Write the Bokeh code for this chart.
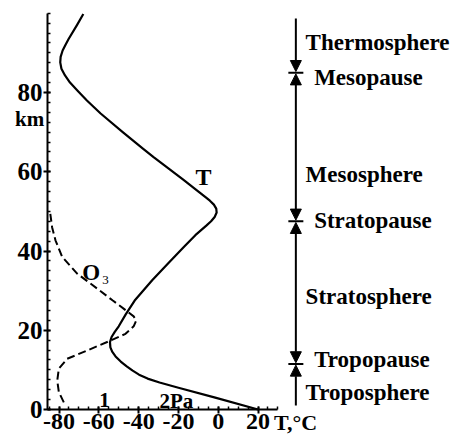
from bokeh.plotting import figure
from bokeh.models import (Range1d, LinearAxis, FixedTicker, Label, Arrow,
                          NormalHead, ColumnDataSource)
from bokeh.embed import file_html
from bokeh.resources import INLINE
from bokeh.core.properties import value

# ---------------- data ----------------
t_alt_km = [0, 3.0, 5.5, 6.8, 7.8, 8.8, 9.8, 10.9, 12.1, 13.4, 14.6, 15.7,
            17.0, 18.3, 19.6, 21.0, 24.0, 27.5, 32.6, 37.0, 41.0, 44.0, 46.4,
            47.5, 48.6, 49.7, 50.7, 51.7, 52.7, 53.6, 55.7, 58.0, 63.7, 65.8,
            70.0, 74.7, 78.0, 80.5, 82.5, 84.3, 86.0, 87.6, 89.0, 90.6, 92.0,
            93.5, 97.0, 99.8]
t_temp_c = [20, -1.5, -20, -29.5, -35.5, -39.8, -43, -46, -49, -51.6, -53.3,
            -54.2, -54.4, -53.6, -52.0, -50, -46.5, -42, -33.2, -25, -17.3,
            -11.5, -6, -3.6, -1.8, -0.8, -1.0, -2.2, -4.2, -6.4, -11.7, -17.6,
            -32.5, -37.7, -48, -59.1, -66, -70.8, -74.5, -77, -78.8, -79.4,
            -79.2, -78.2, -76.8, -75.2, -71, -67.8]

o3_alt_km = [1.8, 4.4, 7.3, 10.3, 12.8, 14.9, 17.4, 19.1, 21.0, 22.5, 23.5,
             25.4, 27.5, 30.5, 34.3, 38.5, 42.7, 46.0, 49.8]
o3_rel = [-77.6, -80.1, -80.9, -80.1, -75.9, -65.8, -54.1, -46.6, -42.5,
          -41.2, -42.5, -47.4, -53.0, -60.8, -70.9, -78.4, -81.8, -83.5, -84.5]

x_ticks = [-80, -60, -40, -20, 0, 20]
x_tick_labels = ["-80", "-60", "-40", "-20", "0", "20"]
x_minor = list(range(-85, 31, 5))
y_ticks = [0, 20, 40, 60, 80]
y_tick_labels = ["0", "20", "40", "60", "80"]
y_minor = [i * 2.5 for i in range(0, 41)]

layer_names = ["Thermosphere", "Mesosphere", "Stratosphere", "Troposphere"]
layer_label_km = [92.6, 59.3, 28.4, 4.2]
pause_names = ["Mesopause", "Stratopause", "Tropopause"]
pause_km = [85.0, 47.5, 11.5]
pause_label_km = [83.8, 47.6, 12.5]

# ---------------- layout constants ----------------
FONT = "Liberation Serif"
AX_X0, AX_X1 = -85.8, 30.0      # extent of the temperature axis
AX_Y0, AX_Y1 = 0.0, 100.0       # extent of the altitude axis
X0, X1 = -109.42, 118.22        # visible range (whole canvas)
Y0, Y1 = -6.56, 103.22
LINE_X = 39.0
LINE_TOP, LINE_BOTTOM = 98.7, 1.0
GAP = 0.3
SPHERE_X = 43.9
PAUSE_X = 48.2

p = figure(width=453, height=435, output_backend="svg", toolbar_location=None,
           x_range=Range1d(X0, X1), y_range=Range1d(Y0, Y1),
           x_axis_type=None, y_axis_type=None,
           min_border_left=0, min_border_right=0, min_border_top=0,
           min_border_bottom=0, min_border=0)
p.outline_line_color = None
p.background_fill_color = "white"
p.border_fill_color = "white"


def style_axis(ax, standoff, size):
    ax.axis_line_width = 2
    ax.axis_line_color = "black"
    ax.major_tick_line_width = 2
    ax.minor_tick_line_width = 1.5
    ax.major_tick_line_color = "black"
    ax.minor_tick_line_color = "black"
    ax.major_tick_in = 3
    ax.major_tick_out = 4
    ax.minor_tick_in = 3
    ax.minor_tick_out = 0
    ax.major_label_standoff = standoff
    ax.major_label_text_font = FONT
    ax.major_label_text_font_style = "bold"
    ax.major_label_text_font_size = size
    ax.major_label_text_color = "black"


xaxis = LinearAxis(ticker=FixedTicker(ticks=x_ticks, minor_ticks=x_minor),
                   bounds=(AX_X0, AX_X1), fixed_location=AX_Y0,
                   major_label_overrides=dict(zip(x_ticks, x_tick_labels)))
style_axis(xaxis, 0, "24px")
p.add_layout(xaxis, "below")

yaxis = LinearAxis(ticker=FixedTicker(ticks=y_ticks, minor_ticks=y_minor),
                   bounds=(AX_Y0, AX_Y1), fixed_location=AX_X0,
                   major_label_overrides=dict(zip(y_ticks, y_tick_labels)))
style_axis(yaxis, 1, "25px")
p.add_layout(yaxis, "left")

# curves
p.line(t_temp_c, t_alt_km, line_width=2.2, line_color="black", line_join="round")
p.line(o3_rel, o3_alt_km, line_width=2, line_color="black", line_dash="8 4")


def lab(x, y, text, size, align="left", style="bold"):
    p.add_layout(Label(x=x, y=y, text=text, text_font=FONT, text_font_style=style,
                       text_font_size=size, text_align=align, text_baseline="middle",
                       text_color="black"))


# curve and axis labels
lab(-11.4, 58.6, "T", "24px")
lab(-68.3, 34.6, "O", "23px")
lab(-58.3, 32.7, "3", "13px", style="normal")
lab(-57.1, 2.3, "1", "21px", align="center")
lab(-21.0, 2.1, "2Pa", "21px", align="center")
lab(-94.8, 73.4, "km", "21px", align="center")
lab(28.0, -3.4, "T,°C", "22px")

# atmosphere layer diagram
bounds_top = [LINE_TOP] + [k - GAP for k in pause_km]
bounds_bot = [k + GAP for k in pause_km] + [LINE_BOTTOM]
for i, (a, b) in enumerate(zip(bounds_top, bounds_bot)):
    start = None if i == 0 else NormalHead(size=11, fill_color="black", line_color="black", line_width=1)
    end = None if i == len(bounds_top) - 1 else NormalHead(size=11, fill_color="black", line_color="black", line_width=1)
    p.add_layout(Arrow(start=start, end=end, x_start=LINE_X, y_start=a,
                       x_end=LINE_X, y_end=b, line_width=2, line_color="black"))

p.scatter(x=[LINE_X] * len(pause_km), y=pause_km, marker="dash", size=15,
          line_width=2, line_color="black")

src_s = ColumnDataSource(dict(x=[SPHERE_X] * len(layer_names), y=layer_label_km, t=layer_names))
p.text(x="x", y="y", text="t", source=src_s, text_font=value(FONT),
       text_font_style="bold", text_font_size="23px", text_baseline="middle",
       text_color="black")
src_p = ColumnDataSource(dict(x=[PAUSE_X] * len(pause_names), y=pause_label_km, t=pause_names))
p.text(x="x", y="y", text="t", source=src_p, text_font=value(FONT),
       text_font_style="bold", text_font_size="23px", text_baseline="middle",
       text_color="black")

open("out.html", "w").write(file_html(p, INLINE))
